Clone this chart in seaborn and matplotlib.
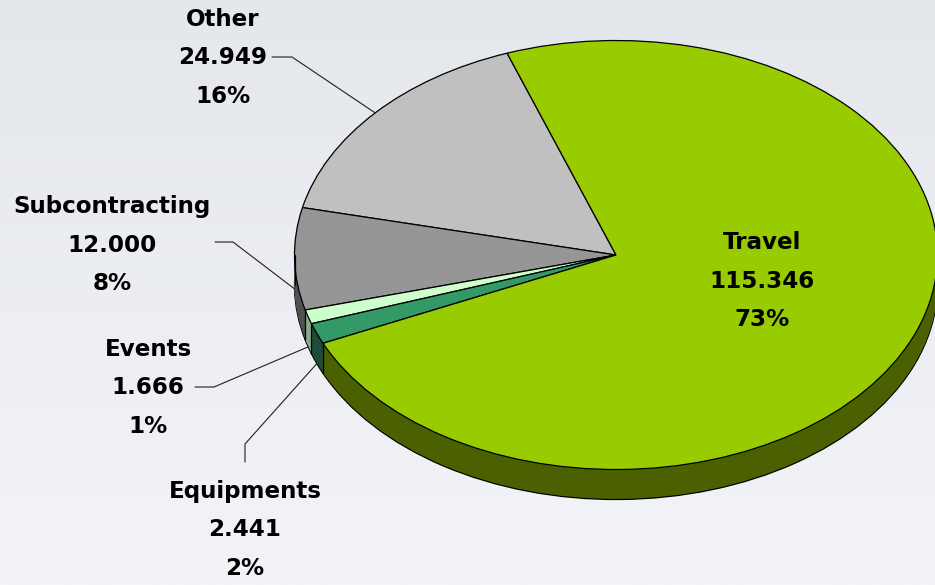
import numpy as np
import matplotlib
matplotlib.use("Agg")
import matplotlib.pyplot as plt
from matplotlib.colors import LinearSegmentedColormap
import seaborn as sns

# Budget breakdown (thousands)
categories = ["Other", "Subcontracting", "Events", "Equipments", "Travel"]
values = [24.949, 12.000, 1.666, 2.441, 115.346]
value_labels = ["24.949", "12.000", "1.666", "2.441", "115.346"]
pct_labels = ["16%", "8%", "1%", "2%", "73%"]

top_colors = ["#c0c0c0", "#969696", "#ccffcc", "#339966", "#99cc00"]
side_colors = ["#5e5e5e", "#505050", "#8aa88a", "#1d4d37", "#4b6000"]

sns.set_theme(style="white")
plt.rcParams["font.family"] = ["DejaVu Sans"]

W, H, DPI = 935, 585, 100
fig = plt.figure(figsize=(W / DPI, H / DPI), dpi=DPI)

# soft vertical gradient behind the chart
bg = fig.add_axes([0, 0, 1, 1], zorder=0)
cmap = LinearSegmentedColormap.from_list("bg", ["#e4e7ec", "#f3f4f8"])
bg.imshow(np.linspace(0, 1, 256)[:, None], aspect="auto", cmap=cmap,
          extent=[0, 1, 0, 1])
bg.axis("off")

ax = fig.add_axes([0, 0, 1, 1], zorder=1)
ax.patch.set_alpha(0)

# pixel geometry of the tilted pie (centre and semi-axes)
CX, CY, RX, RY = 616, 255, 321.5, 214.5


def to_data(px, py):
    return (px - CX) / RX, (CY - py) / RY


depth = 30 / RY
start = 109.8

# extruded body: stacked copies of the pie in darker shades
n_layers = 30
for i, off in enumerate(np.linspace(depth, 0, n_layers, endpoint=False)):
    ax.pie(values, colors=side_colors, startangle=start, center=(0, -off),
           radius=1,
           wedgeprops=dict(linewidth=0.9 if i == 0 else 0, edgecolor="black"))

# top face
wedges, _ = ax.pie(values, colors=top_colors, startangle=start,
                   wedgeprops=dict(linewidth=0.9, edgecolor="black"))

# vertical seams on the visible front rim
bounds = {180.0, 360.0}
for w in wedges:
    bounds.add(w.theta1 % 360)
    bounds.add(w.theta2 % 360)
for a in sorted(bounds):
    if 180 <= a <= 360:
        x, y = np.cos(np.radians(a)), np.sin(np.radians(a))
        ax.plot([x, x], [y, y - depth], color="black", lw=0.9, zorder=3)

# label layout (pixel centre of each text block) and leader paths
label_pos = {
    "Other": (223, 58),
    "Subcontracting": (112, 245),
    "Events": (148, 388),
    "Equipments": (245, 530),
    "Travel": (762, 281),
}
leader_path = {
    "Other": [(272, 57), (292, 57)],
    "Subcontracting": [(215, 242), (233, 242)],
    "Events": [(195, 387), (214, 387)],
    "Equipments": [(245, 462), (245, 444)],
}

for w, cat, vl, pl in zip(wedges, categories, value_labels, pct_labels):
    tx, ty = to_data(*label_pos[cat])
    ax.text(tx, ty, f"{cat}\n{vl}\n{pl}", ha="center", va="center",
            fontsize=16.6, fontweight="bold", color="black",
            linespacing=1.85, zorder=5)
    if cat in leader_path:
        mid = np.radians((w.theta1 + w.theta2) / 2)
        ex, ey = np.cos(mid), np.sin(mid)
        if ey < 0:
            ey -= depth
        pts = [to_data(*p) for p in leader_path[cat]] + [(ex, ey)]
        xs, ys = zip(*pts)
        ax.plot(xs, ys, color="#202020", lw=0.8, zorder=4)

ax.set_aspect("auto")
ax.set_xlim((0 - CX) / RX, (W - CX) / RX)
ax.set_ylim((CY - H) / RY, CY / RY)
ax.axis("off")
sns.despine(ax=ax, left=True, bottom=True)

fig.savefig("out.png", dpi=DPI)
